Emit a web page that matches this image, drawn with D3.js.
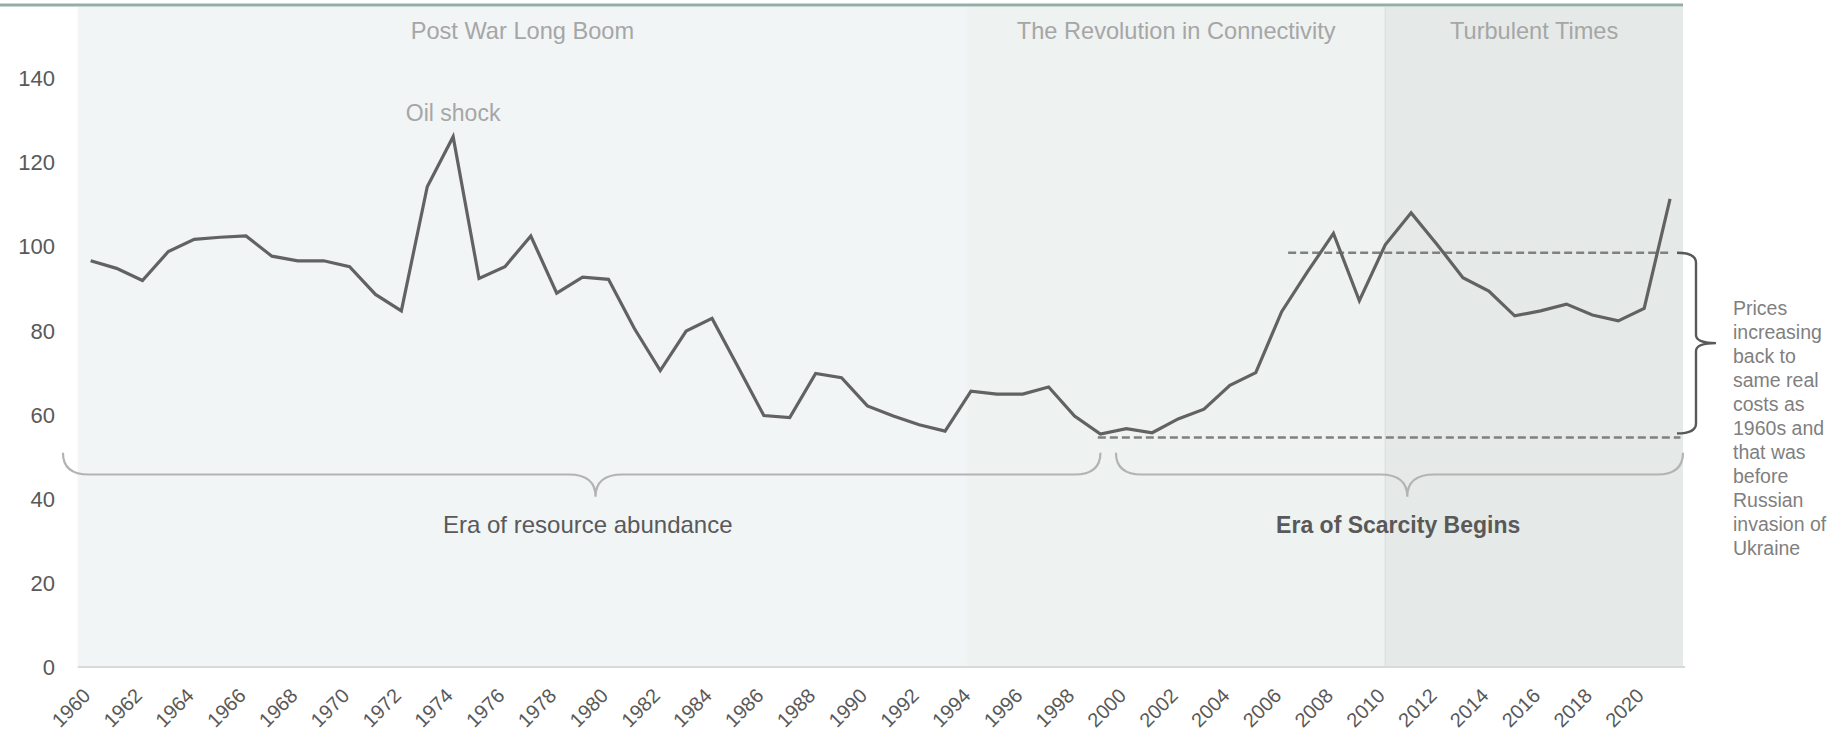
<!DOCTYPE html>
<html>
<head>
<meta charset="utf-8">
<script src="https://cdn.jsdelivr.net/npm/d3@7"></script>
<style>
  html, body { margin: 0; padding: 0; background: #ffffff; }
  svg { display: block; font-family: "Liberation Sans", Arial, sans-serif; }
</style>
</head>
<body>
<svg id="chart" width="1845" height="740"></svg>
<script>
// Real price index, annual
const years = [1960,1961,1962,1963,1964,1965,1966,1967,1968,1969,
  1970,1971,1972,1973,1974,1975,1976,1977,1978,1979,
  1980,1981,1982,1983,1984,1985,1986,1987,1988,1989,
  1990,1991,1992,1993,1994,1995,1996,1997,1998,1999,
  2000,2001,2002,2003,2004,2005,2006,2007,2008,2009,
  2010,2011,2012,2013,2014,2015,2016,2017,2018,2019,
  2020,2021];
const priceIndex = [96.6,94.8,91.9,98.8,101.7,102.2,102.5,97.7,96.6,96.6,
  95.2,88.6,84.7,114.2,126.1,92.4,95.2,102.5,88.9,92.7,
  92.2,80.5,70.5,79.9,82.9,71.4,59.8,59.3,69.8,68.8,
  62.1,59.7,57.6,56.1,65.6,64.9,64.9,66.6,59.7,55.4,
  56.7,55.7,59.0,61.3,67.0,70.0,84.5,94.0,103.1,87.1,
  100.4,108.0,100.5,92.6,89.4,83.5,84.7,86.3,83.7,82.3,
  85.3,111.3];
const xTickLabels = [1960,1962,1964,1966,1968,1970,1972,1974,1976,1978,
  1980,1982,1984,1986,1988,1990,1992,1994,1996,1998,
  2000,2002,2004,2006,2008,2010,2012,2014,2016,2018,2020];
const yTicks = [0,20,40,60,80,100,120,140];

// Shaded eras: [start year, end year]
const eraNames = ["Post War Long Boom", "The Revolution in Connectivity", "Turbulent Times"];
const eraStart = [1958.5, 1993.85, 2010];
const eraEnd   = [1993.85, 2010, 2021.5];
const eraFill  = ["#f1f5f6", "#eef2f1", "#e5eae8"];

// Reference levels (dashed)
const refHigh = 98.5, refHighFrom = 2006.25, refHighTo = 2021;
const refLow = 54.6,  refLowFrom = 1998.9,  refLowTo = 2021.4;

const plotLeft = 77.7, plotRight = 1683, plotTop = 7, plotBottom = 667;

const svg = d3.select("#chart");

const x = d3.scalePoint().domain(years).range([plotLeft, plotRight]).padding(0.5);
const step = x.step();
// position for fractional years
const xAt = yr => x(years[0]) + (yr - years[0]) * step;
const y = d3.scaleLinear().domain([0, 140]).range([plotBottom, 78.3]);

// era bands
svg.append("g").selectAll("rect").data(eraNames).join("rect")
  .attr("x", (d, i) => Math.max(plotLeft, xAt(eraStart[i])))
  .attr("y", plotTop)
  .attr("width", (d, i) => Math.min(plotRight, xAt(eraEnd[i])) - Math.max(plotLeft, xAt(eraStart[i])))
  .attr("height", plotBottom - plotTop)
  .attr("fill", (d, i) => eraFill[i]);

svg.append("line")
  .attr("x1", xAt(eraStart[2])).attr("x2", xAt(eraStart[2]))
  .attr("y1", plotTop).attr("y2", plotBottom)
  .attr("stroke", "#d4dcda").attr("stroke-width", 1);

// top rule
svg.append("line").attr("x1", 0).attr("x2", plotRight).attr("y1", 5).attr("y2", 5)
  .attr("stroke", "#93aea6").attr("stroke-width", 3);

// era titles
svg.append("g").selectAll("text").data(eraNames).join("text")
  .attr("x", (d, i) => (Math.max(plotLeft, xAt(eraStart[i])) + Math.min(plotRight, xAt(eraEnd[i]))) / 2)
  .attr("y", 38.5)
  .attr("text-anchor", "middle")
  .attr("font-size", 23.6)
  .attr("fill", "#a6a6a6")
  .text(d => d);

// baseline
svg.append("line").attr("x1", plotLeft).attr("x2", plotRight + 2)
  .attr("y1", y(0)).attr("y2", y(0))
  .attr("stroke", "#d9d9d9").attr("stroke-width", 2);

// y axis labels
svg.append("g").selectAll("text").data(yTicks).join("text")
  .attr("x", 55).attr("y", d => y(d)).attr("dy", "0.36em")
  .attr("text-anchor", "end").attr("font-size", 22).attr("fill", "#595959")
  .text(d => d);

// x axis labels
svg.append("g").selectAll("text").data(xTickLabels).join("text")
  .attr("transform", d => `translate(${x(d) + 1},${697}) rotate(-45)`)
  .attr("text-anchor", "end").attr("font-size", 20).attr("fill", "#595959")
  .text(d => d);

// dashed reference lines
svg.append("line")
  .attr("x1", xAt(refLowFrom)).attr("x2", xAt(refLowTo))
  .attr("y1", y(refLow)).attr("y2", y(refLow))
  .attr("stroke", "#808080").attr("stroke-width", 2.5).attr("stroke-dasharray", "8,4");
svg.append("line")
  .attr("x1", xAt(refHighFrom)).attr("x2", xAt(refHighTo))
  .attr("y1", y(refHigh)).attr("y2", y(refHigh))
  .attr("stroke", "#808080").attr("stroke-width", 2.5).attr("stroke-dasharray", "8,4");

// price line
const line = d3.line().x((d, i) => x(years[i])).y(d => y(d));
svg.append("path").datum(priceIndex)
  .attr("d", line)
  .attr("fill", "none").attr("stroke", "#626262").attr("stroke-width", 3.2)
  .attr("stroke-linejoin", "miter");

svg.append("text").attr("x", x(1974)).attr("y", 121)
  .attr("text-anchor", "middle").attr("font-size", 23).attr("fill", "#a6a6a6")
  .text("Oil shock");

// horizontal curly brace opening upward, tip pointing down
function hBrace(x1, x2, xt, yTop, yMid, yTip, r, rt) {
  return `M${x1},${yTop} Q${x1},${yMid} ${x1 + r},${yMid} L${xt - rt},${yMid} ` +
    `Q${xt},${yMid} ${xt},${yTip} Q${xt},${yMid} ${xt + rt},${yMid} ` +
    `L${x2 - r},${yMid} Q${x2},${yMid} ${x2},${yTop}`;
}
// vertical curly brace opening left, tip pointing right
function vBrace(y1, y2, yt, xEnd, xMid, xTip, r, rt) {
  return `M${xEnd},${y1} Q${xMid},${y1} ${xMid},${y1 + r} L${xMid},${yt - rt} ` +
    `Q${xMid},${yt} ${xTip},${yt} Q${xMid},${yt} ${xMid},${yt + rt} ` +
    `L${xMid},${y2 - r} Q${xMid},${y2} ${xEnd},${y2}`;
}

const braceTop = 452.7, braceMid = 474.5, braceTip = 496.7;
svg.append("path")
  .attr("d", hBrace(xAt(1958.93), xAt(1999), xAt(1979.5), braceTop, braceMid, braceTip, 26, 27))
  .attr("fill", "none").attr("stroke", "#b3b3b3").attr("stroke-width", 2.2);
svg.append("path")
  .attr("d", hBrace(xAt(1999.6), xAt(2021.5), xAt(2010.85), braceTop, braceMid, braceTip, 26, 27))
  .attr("fill", "none").attr("stroke", "#b3b3b3").attr("stroke-width", 2.2);

svg.append("text").attr("x", xAt(1979.2)).attr("y", 533)
  .attr("text-anchor", "middle").attr("font-size", 24).attr("fill", "#595959")
  .text("Era of resource abundance");
svg.append("text").attr("x", xAt(2010.5)).attr("y", 533)
  .attr("text-anchor", "middle").attr("font-size", 23).attr("font-weight", "bold").attr("fill", "#595959")
  .text("Era of Scarcity Begins");

// brace spanning the two reference levels
const bTop = y(refHigh), bBot = y(refLow) - 4;
svg.append("path")
  .attr("d", vBrace(bTop, bBot, (bTop + bBot) / 2, 1677, 1696, 1716, 10, 8))
  .attr("fill", "none").attr("stroke", "#595959").attr("stroke-width", 2.4);

const noteLines = ["Prices", "increasing", "back to", "same real", "costs as",
  "1960s and", "that was", "before", "Russian", "invasion of", "Ukraine"];
svg.append("g").selectAll("text").data(noteLines).join("text")
  .attr("x", 1733).attr("y", (d, i) => 315 + i * 24)
  .attr("font-size", 19.5).attr("fill", "#7f7f7f")
  .text(d => d);
</script>
</body>
</html>
